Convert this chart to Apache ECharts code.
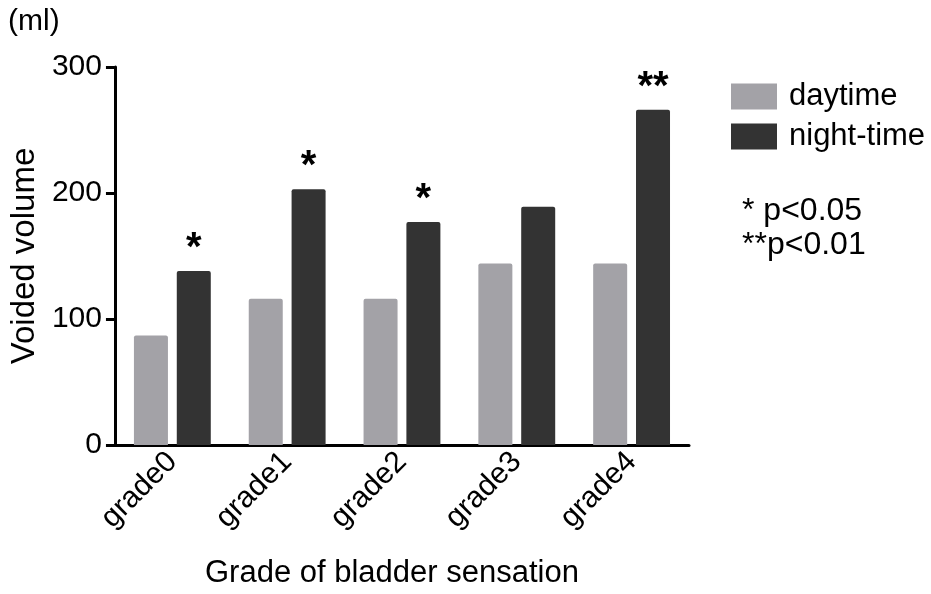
<!DOCTYPE html>
<html>
<head>
<meta charset="utf-8">
<script src="https://cdn.jsdelivr.net/npm/echarts@6/dist/echarts.min.js"></script>
<style>
html,body{margin:0;padding:0;background:#fff;}
#c{width:931px;height:594px;}
</style>
</head>
<body>
<div id="c"></div>
<script>
var categories = ['grade0', 'grade1', 'grade2', 'grade3', 'grade4'];
var daytime = [87, 116, 116, 144, 144];
var nightTime = [138, 203, 177, 189, 266];
var significance = ['*', '*', '*', '', '**'];
var yTicks = [0, 100, 200, 300];

var FONT = '"Liberation Sans", Arial, sans-serif';
var chart = echarts.init(document.getElementById('c'));
chart.setOption({
  backgroundColor: '#fff',
  animation: false,
  textStyle: { fontFamily: FONT, color: '#000' },
  grid: { left: 112, right: 242, top: 67, bottom: 143, containLabel: false },
  legend: {
    orient: 'vertical',
    left: 726,
    top: 76,
    itemWidth: 46,
    itemHeight: 26,
    itemGap: 9,
    icon: 'rect',
    textStyle: { fontSize: 31, fontFamily: FONT, color: '#000', padding: [0, 0, 0, 7], lineHeight: 26 },
    data: ['daytime', 'night-time']
  },
  xAxis: {
    type: 'category',
    data: categories,
    name: 'Grade of bladder sensation',
    nameLocation: 'middle',
    nameGap: 113,
    nameTextStyle: { fontSize: 31, fontFamily: FONT, color: '#000', verticalAlign: 'top', padding: [0, 20, 0, 0] },
    axisLine: { lineStyle: { color: '#000', width: 3 } },
    axisTick: { alignWithLabel: true, length: 9, lineStyle: { color: '#000', width: 3 } },
    axisLabel: { rotate: 45, fontSize: 30, fontFamily: FONT, color: '#000', margin: 12 },
    splitLine: { show: false }
  },
  yAxis: {
    type: 'value',
    min: yTicks[0],
    max: yTicks[yTicks.length - 1],
    interval: 100,
    name: 'Voided volume',
    nameLocation: 'middle',
    nameGap: 72,
    nameRotate: 90,
    nameTextStyle: { fontSize: 33, fontFamily: FONT, color: '#000' },
    axisLine: { show: true, lineStyle: { color: '#000', width: 3 } },
    axisTick: { show: true, length: 9, lineStyle: { color: '#000', width: 3 } },
    axisLabel: { fontSize: 30, fontFamily: FONT, color: '#000', margin: 13 },
    splitLine: { show: false }
  },
  series: [
    {
      name: 'daytime',
      type: 'bar',
      data: daytime,
      barWidth: 34,
      barGap: '26%',
      itemStyle: { color: '#a3a2a7', borderRadius: [2, 2, 0, 0] }
    },
    {
      name: 'night-time',
      type: 'bar',
      data: nightTime,
      barWidth: 34,
      barGap: '26%',
      itemStyle: { color: '#333333', borderRadius: [2, 2, 0, 0] },
      label: {
        show: true,
        position: 'top',
        distance: 2,
        fontSize: 40,
        fontWeight: 'bold',
        fontFamily: FONT,
        color: '#000',
        formatter: function (p) { return significance[p.dataIndex]; }
      }
    }
  ],
  graphic: [
    { type: 'text', x: 8, y: 22, style: { text: '(ml)', font: '30px ' + FONT, fill: '#000', verticalAlign: 'middle' } },
    { type: 'text', x: 742, y: 211, style: { text: '* p<0.05', font: '32px ' + FONT, fill: '#000', verticalAlign: 'middle' } },
    { type: 'text', x: 742, y: 245, style: { text: '**p<0.01', font: '32px ' + FONT, fill: '#000', verticalAlign: 'middle' } }
  ]
});
</script>
</body>
</html>
